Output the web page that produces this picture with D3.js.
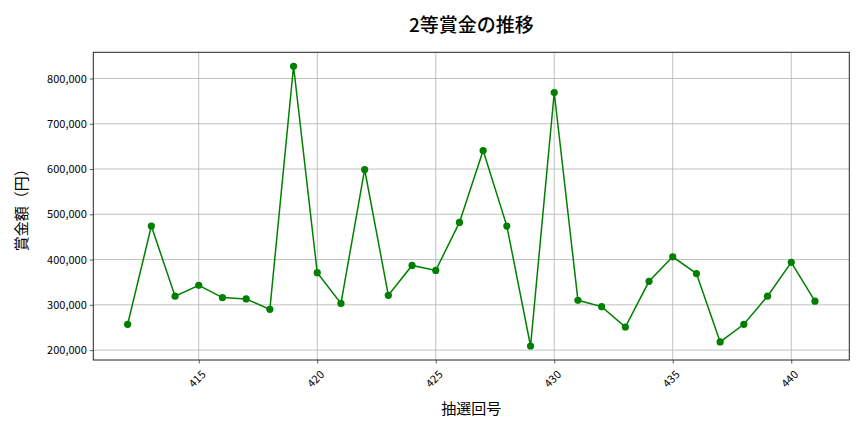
<html>
<head>
<meta charset="utf-8">
<script src="https://cdn.jsdelivr.net/npm/d3@7"></script>
<style type="text/css">
body{ margin: 0; background: #fff; }
text{ font-family: "Noto Sans CJK JP", "Noto Sans", sans-serif; fill: #000; }
.grid line{ stroke: #b0b0b0; stroke-width: 0.8; }
</style>
</head>
<body>
<script type="text/javascript">
var width = 864,
    height = 432;

// draw numbers (x) and 2nd prize amounts in yen (y)
var draws = [412, 413, 414, 415, 416, 417, 418, 419, 420, 421,
             422, 423, 424, 425, 426, 427, 428, 429, 430, 431,
             432, 433, 434, 435, 436, 437, 438, 439, 440, 441];
var prizes = [257000, 474000, 319000, 343000, 316000, 313000, 290000, 827000, 371000, 303000,
              599000, 321000, 387000, 376000, 482000, 641000, 474000, 209000, 769000, 310000,
              296000, 251000, 352000, 406000, 369000, 218000, 257000, 319000, 394000, 308000];
var xTicks = [415, 420, 425, 430, 435, 440];
var yTicks = [200000, 300000, 400000, 500000, 600000, 700000, 800000];

// plot box (window.top is read-only, so no "top" here)
var plotL = 93.3, plotR = 849.3, plotT = 52.3, plotB = 360;

var data = draws.map(function(d, i){ return { draw: d, prize: prizes[i] }; });

// matplotlib style 5% margins
var xr = d3.extent(draws), yr = d3.extent(prizes);
var xPad = (xr[1] - xr[0]) * 0.05, yPad = (yr[1] - yr[0]) * 0.05;

var x = d3.scaleLinear()
    .domain([xr[0] - xPad, xr[1] + xPad])
    .range([plotL, plotR]);
var y = d3.scaleLinear()
    .domain([yr[0] - yPad, yr[1] + yPad])
    .range([plotB, plotT]);

var svg = d3.select('body')
    .append('svg')
        .attr('width', width)
        .attr('height', height);

// grid
var grid = svg.append('g').attr('class', 'grid');
grid.selectAll('line.gx')
    .data(xTicks)
    .enter()
    .append('line')
        .attr('x1', function(d){ return x(d); })
        .attr('x2', function(d){ return x(d); })
        .attr('y1', plotT)
        .attr('y2', plotB);
grid.selectAll('line.gy')
    .data(yTicks)
    .enter()
    .append('line')
        .attr('x1', plotL)
        .attr('x2', plotR)
        .attr('y1', function(d){ return y(d); })
        .attr('y2', function(d){ return y(d); });

// axes
var xAxis = svg.append('g')
    .attr('transform', 'translate(0,' + plotB + ')')
    .call(d3.axisBottom(x).tickValues(xTicks).tickSize(3.5).tickPadding(3).tickFormat(d3.format('d')));
// rotated labels centred under the tick, like rotation=45 in matplotlib
xAxis.selectAll('text')
    .style('font-size', '11px')
    .attr('text-anchor', 'middle')
    .attr('y', 0)
    .attr('dy', '0.35em')
    .attr('transform', 'translate(-2,19) rotate(-45)');

var yAxis = svg.append('g')
    .attr('transform', 'translate(' + plotL + ',0)')
    .call(d3.axisLeft(y).tickValues(yTicks).tickSize(3.5).tickPadding(3).tickFormat(d3.format(',')));
yAxis.selectAll('text').style('font-size', '11px');

svg.selectAll('.domain').remove();
svg.selectAll('.tick line').attr('stroke', '#333').attr('stroke-width', 0.8);

// frame
svg.append('rect')
    .attr('x', plotL)
    .attr('y', plotT)
    .attr('width', plotR - plotL)
    .attr('height', plotB - plotT)
    .attr('fill', 'none')
    .attr('stroke', '#222')
    .attr('stroke-width', 1);

// line and markers
var line = d3.line()
    .x(function(d){ return x(d.draw); })
    .y(function(d){ return y(d.prize); });

svg.append('path')
    .datum(data)
    .attr('d', line)
    .attr('fill', 'none')
    .attr('stroke', 'green')
    .attr('stroke-width', 1.5);

svg.selectAll('circle')
    .data(data)
    .enter()
    .append('circle')
        .attr('cx', function(d){ return x(d.draw); })
        .attr('cy', function(d){ return y(d.prize); })
        .attr('r', 3.6)
        .attr('fill', 'green');

// labels
svg.append('text')
    .attr('x', (plotL + plotR) / 2)
    .attr('y', 32)
    .attr('text-anchor', 'middle')
    .style('font-size', '19px')
    .style('font-weight', '500')
    .text('2等賞金の推移');

svg.append('text')
    .attr('x', (plotL + plotR) / 2)
    .attr('y', 414)
    .attr('text-anchor', 'middle')
    .style('font-size', '15px')
    .text('抽選回号');

svg.append('text')
    .attr('transform', 'translate(27,' + (plotT + plotB) / 2 + ') rotate(-90)')
    .attr('text-anchor', 'middle')
    .style('font-size', '15px')
    .text('賞金額（円）');
</script>
</body>
</html>
